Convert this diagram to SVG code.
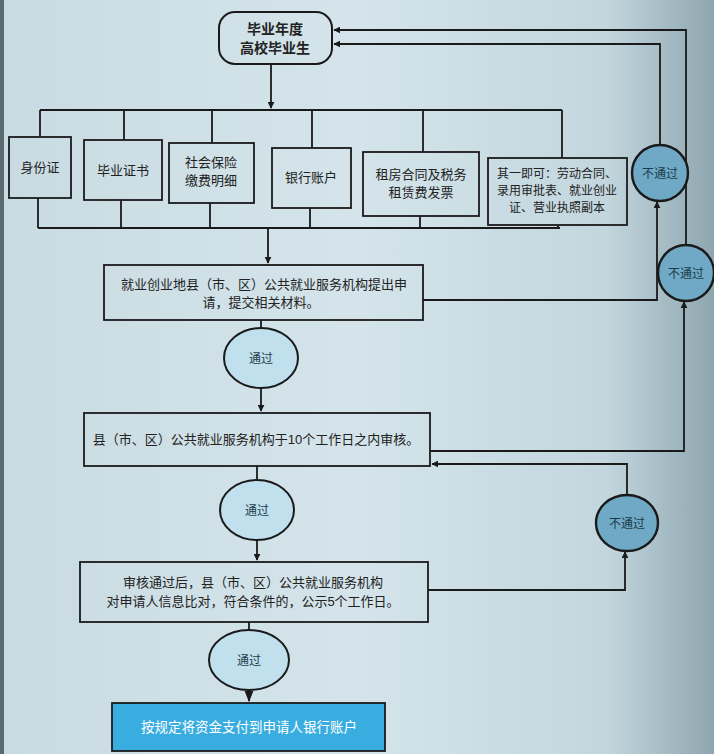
<svg xmlns="http://www.w3.org/2000/svg" width="714" height="754" viewBox="0 0 714 754">
<defs>
<linearGradient id="bg" x1="0" y1="0" x2="1" y2="0">
<stop offset="0" stop-color="#c9dbe2"/>
<stop offset="0.5" stop-color="#d4e4ea"/>
<stop offset="0.85" stop-color="#c3d6de"/>
<stop offset="1" stop-color="#8ea6b0"/>
</linearGradient>
<marker id="ah" viewBox="0 0 10 10" refX="9" refY="5" markerWidth="7" markerHeight="7" orient="auto" markerUnits="userSpaceOnUse">
<path d="M0,0 L10,5 L0,10 Z" fill="#1a1a1a"/>
</marker>
<marker id="ahL" viewBox="0 0 10 10" refX="9" refY="5" markerWidth="11" markerHeight="11" orient="auto" markerUnits="userSpaceOnUse">
<path d="M0,1 L10,5 L0,9 Z" fill="#1a1a1a"/>
</marker>
</defs>
<style>
.ln{fill:none;stroke:#1a1a1a;stroke-width:1.8}
.box{fill:none;stroke:#1a1a1a;stroke-width:1.8}
.pass{fill:#bfe0ec;stroke:#1a1a1a;stroke-width:2}
.fail{fill:#6fa9c6;stroke:#1a1a1a;stroke-width:2.4}
.t{font-family:"Liberation Sans","Noto Sans CJK SC",sans-serif;font-size:13px;fill:#222;text-anchor:middle}
.tb{font-family:"Liberation Sans","Noto Sans CJK SC",sans-serif;font-size:14px;font-weight:bold;fill:#222;text-anchor:middle}
.tc{font-family:"Liberation Sans","Noto Sans CJK SC",sans-serif;font-size:12px;fill:#1d3c4a;text-anchor:middle}
.tw{font-family:"Liberation Sans","Noto Sans CJK SC",sans-serif;font-size:13.5px;fill:#ffffff;text-anchor:middle}
</style>
<rect x="0" y="0" width="714" height="754" fill="url(#bg)"/>
<rect x="0" y="0" width="4" height="754" fill="#5b6a70"/>

<g id="connectors">
<!-- top node to bus -->
<path class="ln" d="M271,64 V108" marker-end="url(#ah)"/>
<!-- top bus -->
<path class="ln" d="M40,110 H562"/>
<path class="ln" d="M40,110 V137 M124,110 V140 M212,110 V143 M312,110 V148 M423,110 V152 M562,110 V158"/>
<!-- bottom bus -->
<path class="ln" d="M38,228 H560"/>
<path class="ln" d="M38,198 V228 M121,200 V228 M210,203 V228 M310,208 V228 M420,216 V228 M558,225 V228"/>
<path class="ln" d="M268,228 V263" marker-end="url(#ah)"/>
<!-- main flow -->
<path class="ln" d="M261,320 V328"/>
<path class="ln" d="M261,388 V411" marker-end="url(#ah)"/>
<path class="ln" d="M257,466 V480"/>
<path class="ln" d="M257,540 V560" marker-end="url(#ah)"/>
<path class="ln" d="M249,622 V630"/>
<path class="ln" d="M249,690 V701" marker-end="url(#ahL)"/>
<!-- fail loops -->
<path class="ln" d="M423,300 H657 V202" marker-end="url(#ah)"/>
<path class="ln" d="M660,145 V44 H334" marker-end="url(#ah)"/>
<path class="ln" d="M430,451 H684 V302" marker-end="url(#ah)"/>
<path class="ln" d="M686,244 V30 H334" marker-end="url(#ah)"/>
<path class="ln" d="M428,590 H625 V552" marker-end="url(#ah)"/>
<path class="ln" d="M627,495 V464 H432" marker-end="url(#ah)"/>
</g>

<g id="start">
<rect x="219" y="12" width="113" height="52" rx="16" ry="16" fill="none" stroke="#1a1a1a" stroke-width="2"/>
<text class="tb" x="275" y="34">毕业年度</text>
<text class="tb" x="275" y="53">高校毕业生</text>
</g>

<g id="doc1">
<rect class="box" x="9" y="137" width="62" height="61"/>
<text class="t" x="40" y="172">身份证</text>
</g>
<g id="doc2">
<rect class="box" x="84" y="140" width="78" height="60"/>
<text class="t" x="123" y="175">毕业证书</text>
</g>
<g id="doc3">
<rect class="box" x="169" y="143" width="85" height="60"/>
<text class="t" x="211" y="167">社会保险</text>
<text class="t" x="211" y="185">缴费明细</text>
</g>
<g id="doc4">
<rect class="box" x="272" y="148" width="79" height="60"/>
<text class="t" x="311" y="182">银行账户</text>
</g>
<g id="doc5">
<rect class="box" x="363" y="152" width="116" height="64"/>
<text class="t" x="421" y="179">租房合同及税务</text>
<text class="t" x="421" y="197">租赁费发票</text>
</g>
<g id="doc6">
<rect class="box" x="488" y="158" width="139" height="67"/>
<text class="t" x="557" y="178" style="font-size:12px">其一即可：劳动合同、</text>
<text class="t" x="557" y="195" style="font-size:12px">录用审批表、就业创业</text>
<text class="t" x="557" y="212" style="font-size:12px">证、营业执照副本</text>
</g>

<g id="apply">
<rect class="box" x="104" y="265" width="319" height="55"/>
<text class="t" x="264" y="289">就业创业地县（市、区）公共就业服务机构提出申</text>
<text class="t" x="261" y="307">请，提交相关材料。</text>
</g>
<g id="pass1">
<ellipse class="pass" cx="261" cy="358" rx="37" ry="30"/>
<text class="tc" x="261" y="363">通过</text>
</g>
<g id="review">
<rect class="box" x="84" y="413" width="346" height="53"/>
<text class="t" x="256" y="444">县（市、区）公共就业服务机构于10个工作日之内审核。</text>
</g>
<g id="pass2">
<ellipse class="pass" cx="257" cy="510" rx="37" ry="30"/>
<text class="tc" x="257" y="515">通过</text>
</g>
<g id="publicize">
<rect class="box" x="80" y="562" width="348" height="60"/>
<text class="t" x="253" y="587">审核通过后，县（市、区）公共就业服务机构</text>
<text class="t" x="253" y="606">对申请人信息比对，符合条件的，公示5个工作日。</text>
</g>
<g id="pass3">
<ellipse class="pass" cx="249" cy="660" rx="40" ry="30"/>
<text class="tc" x="249" y="665">通过</text>
</g>
<g id="pay">
<rect x="112" y="703" width="273" height="48" fill="#3aade0" stroke="#1a1a1a" stroke-width="1.8"/>
<text class="tw" x="249" y="732">按规定将资金支付到申请人银行账户</text>
</g>

<g id="fail1">
<circle class="fail" cx="660" cy="173" r="28"/>
<text class="tc" x="660" y="178">不通过</text>
</g>
<g id="fail2">
<circle class="fail" cx="686" cy="273" r="28"/>
<text class="tc" x="686" y="278">不通过</text>
</g>
<g id="fail3">
<ellipse class="fail" cx="627" cy="523" rx="31" ry="28"/>
<text class="tc" x="627" y="528">不通过</text>
</g>
</svg>
